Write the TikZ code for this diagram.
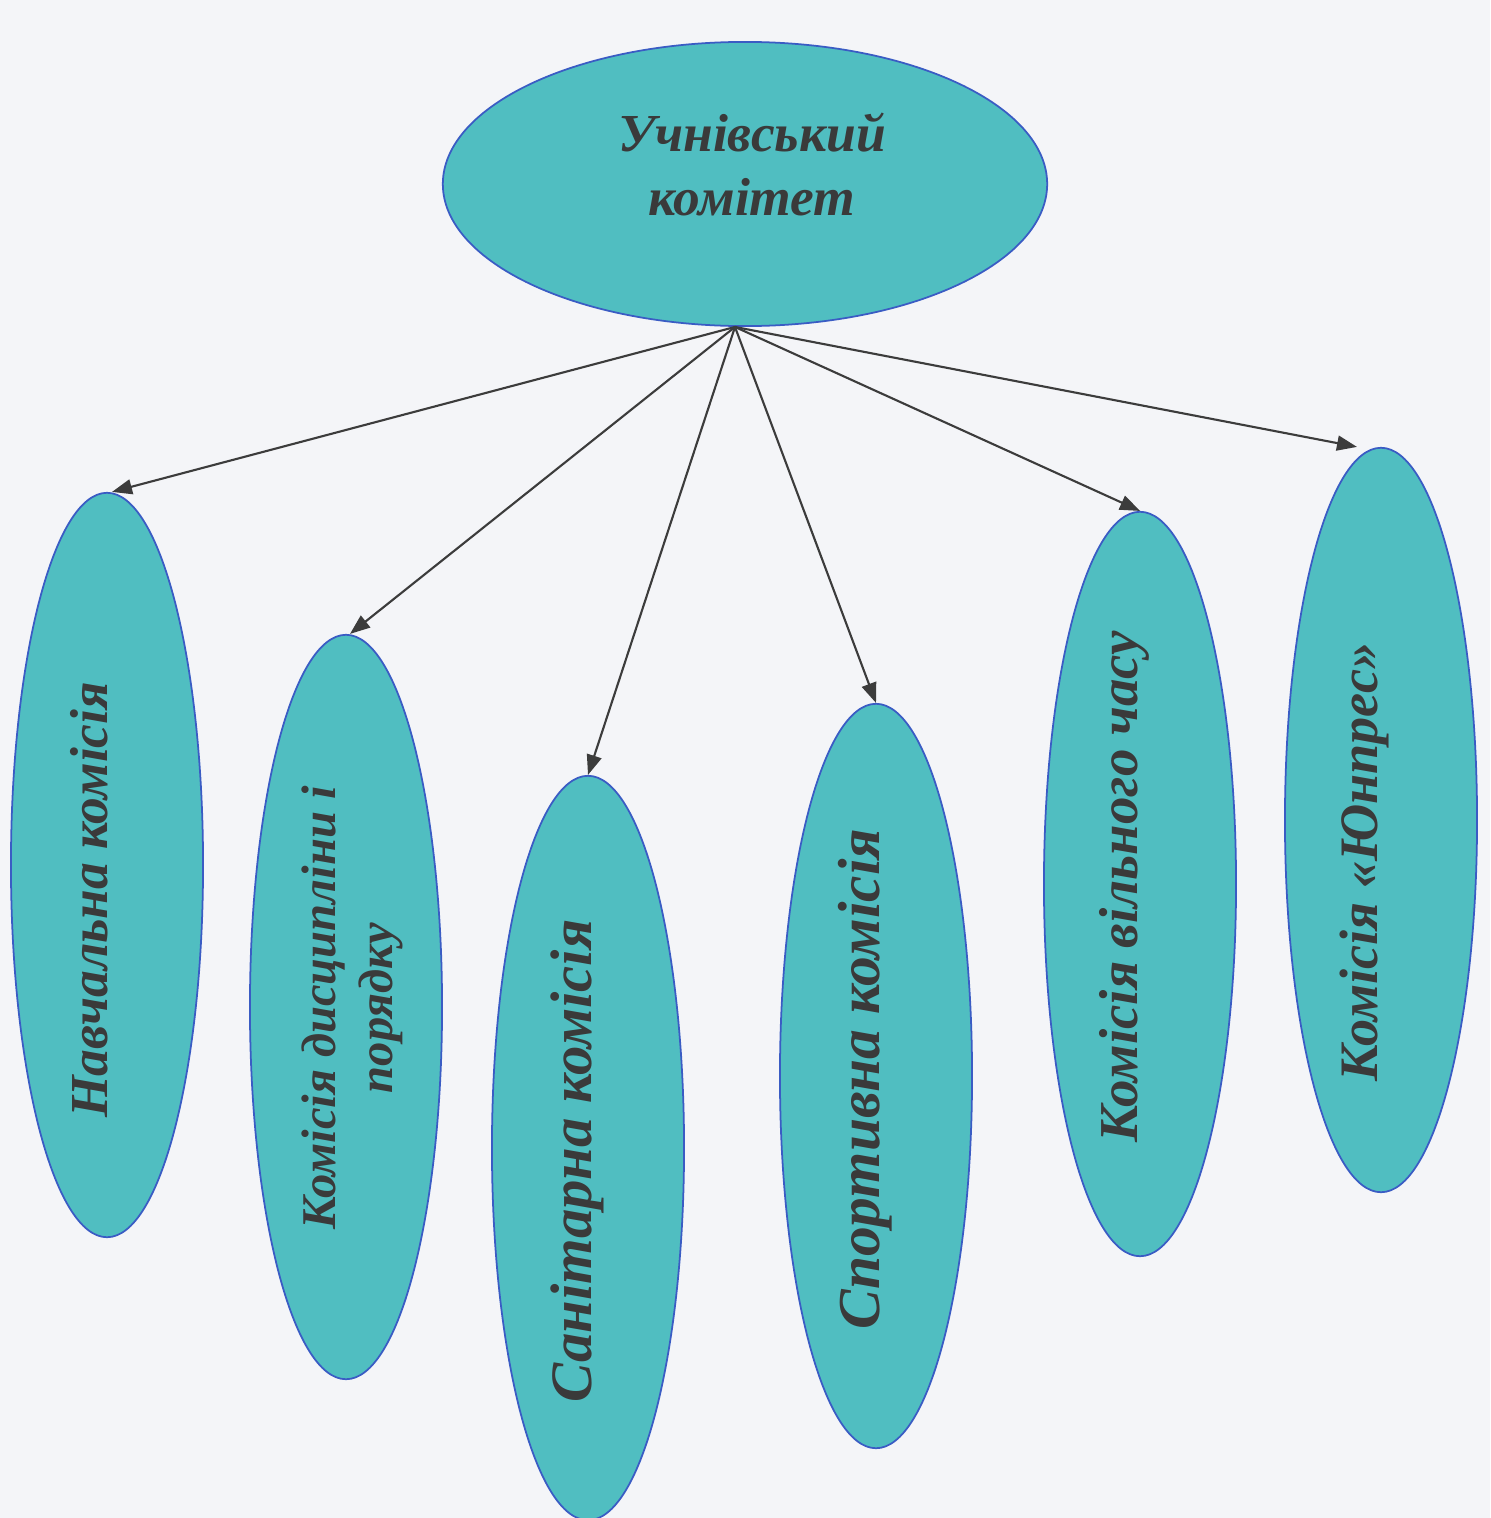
\documentclass[tikz,border=0pt]{standalone}
\usepackage{fontspec}
\setmainfont{Liberation Serif}
\usetikzlibrary{shapes.geometric,arrows.meta}
\definecolor{paper}{HTML}{F4F5F8}
\definecolor{tealfill}{HTML}{50BEC1}
\definecolor{edgeblue}{HTML}{3A5CC4}
\definecolor{inkgray}{HTML}{3A3A3A}
\definecolor{arrowgray}{HTML}{3C3C3C}
\newcommand{\fsz}[2]{\fontsize{#1}{#2}\selectfont\bfseries\itshape}
\tikzset{
  labeltext/.style={inner sep=0pt, text=inkgray, align=center},
  vlabel/.style={labeltext, rotate=90},
  topoval/.style={ellipse, draw=edgeblue, fill=tealfill, line width=0.5pt, minimum width=6.04cm, minimum height=2.84cm},
  commoval/.style={ellipse, draw=edgeblue, fill=tealfill, line width=0.5pt, rotate=90, minimum width=7.44cm, minimum height=1.92cm, inner sep=0pt},
  link/.style={draw=arrowgray, line width=0.6pt, -{Triangle[length=0.2cm,width=0.15cm]}}
}
\begin{document}
\begin{tikzpicture}[x=0.01cm,y=-0.01cm]
  \fill[paper] (0,0) rectangle (1490,1518);
  \useasboundingbox (0,0) rectangle (1490,1518);
  \node[topoval] (top) at (745,184) {};
  \node[labeltext, font=\fsz{15.2}{18.2}] (ttop) at (752,164) {Учнівський\\комітет};
  \node[commoval] (c1) at (107,865) {};
  \node[commoval] (c2) at (346,1007) {};
  \node[commoval] (c3) at (588,1148) {};
  \node[commoval] (c4) at (876,1076) {};
  \node[commoval] (c5) at (1140,884) {};
  \node[commoval] (c6) at (1381,820) {};
  \node[vlabel, font=\fsz{15.2}{18}] (t1) at (89,900) {Навчальна комісія};
  \node[vlabel, font=\fsz{13.8}{16.2}] (t2) at (352,1008) {Комісія дисципліни і\\порядку};
  \node[vlabel, font=\fsz{16.7}{19}] (t3) at (577,1161) {Санітарна комісія};
  \node[vlabel, font=\fsz{16.9}{19}] (t4) at (865,1079) {Спортивна комісія};
  \node[vlabel, font=\fsz{15.6}{18}] (t5) at (1124,887) {Комісія вільного часу};
  \node[vlabel, font=\fsz{15.4}{18}] (t6) at (1364,862) {Комісія «Юнпрес»};
  \coordinate (hub) at ([xshift=-0.1cm]top.south);
  \draw[link] (hub) -- ([xshift=0.05cm]c1.east);
  \draw[link] (hub) -- ([xshift=0.04cm]c2.east);
  \draw[link] (hub) -- (c3.east);
  \draw[link] (hub) -- (c4.east);
  \draw[link] (hub) -- (c5.east);
  \draw[link] (hub) -- ([xshift=-0.24cm]c6.east);
\end{tikzpicture}
\end{document}
